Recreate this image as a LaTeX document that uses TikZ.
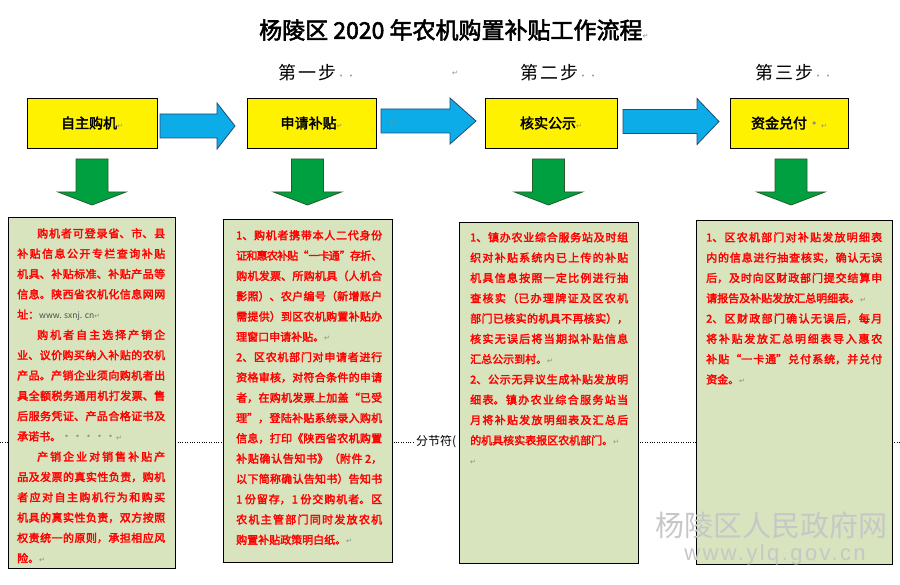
\documentclass[tikz,border=0pt]{standalone}
\usepackage{fontspec}
\newfontfamily\cjk{Noto Sans CJK SC}[AutoFakeBold=2.5]
\newfontfamily\symf{DejaVu Sans}
\newfontfamily\wmfont{Liberation Sans}[LetterSpace=11]
\XeTeXlinebreaklocale "zh"
\XeTeXlinebreakskip=0pt plus 10pt minus 0.8pt
\setlength\parindent{0pt}
\definecolor{arrowblue}{RGB}{12,172,232}
\definecolor{blueedge}{RGB}{35,75,115}
\definecolor{arrowgreen}{RGB}{0,160,64}
\definecolor{greenedge}{RGB}{40,90,40}
\definecolor{notegreen}{RGB}{215,228,189}
\newcommand\retmark{{\symf\mdseries\color{black!45}\fontsize{7}{7}\selectfont ↵}}
\tikzset{
  stepbox/.style={draw, fill=yellow, line width=0.8pt, minimum height=50pt, inner sep=0pt,
    font=\cjk\bfseries\fontsize{14}{14}\selectfont},
  notebox/.style={draw, fill=notegreen, line width=0.8pt, inner sep=0pt},
  notetext/.style={anchor=north west, inner sep=0pt, align=justify, text=red,
    font=\cjk\bfseries\fontsize{11}{20.3}\selectfont},
  steplabel/.style={anchor=west, inner sep=0pt, font=\cjk\fontsize{18}{18}\selectfont\addfontfeature{LetterSpace=12}},
  bluearrow/.style={fill=arrowblue, draw=blueedge, line width=0.8pt},
  greenarrow/.style={fill=arrowgreen, draw=greenedge, line width=0.8pt}
}
\begin{document}
\begin{tikzpicture}[x=1pt, y=-1pt]
    \useasboundingbox (0,0) rectangle (900,585);
    % section break line
    \draw[dotted] (0,442) -- (415,442);
    \draw[dotted] (460,442) -- (900,442);
    \node[anchor=west, inner sep=0pt, font=\cjk\fontsize{12}{12}\selectfont] (brk) at (416,442) {分节符(};
    % title and steps
    \node[anchor=west, inner sep=0pt, font=\cjk\bfseries\fontsize{23}{23}\selectfont] (title) at (259,30) {杨陵区 2020 年农机购置补贴工作流程\retmark};
    \node[steplabel] (step1) at (278,73) {第一步{\color{black!45}\fontsize{9}{9}\selectfont ··}};
    \node[steplabel] (step2) at (520,73) {第二步{\color{black!45}\fontsize{9}{9}\selectfont ··}};
    \node[steplabel] (step3) at (755,73) {第三步{\color{black!45}\fontsize{9}{9}\selectfont ··}};
    \node (mark1) at (455,73) {\retmark};
    % yellow boxes
    \node[stepbox, minimum width=130pt] (buy) at (92,123) {自主购机\retmark};
    \node[stepbox, minimum width=129pt] (apply) at (311.5,123) {申请补贴\retmark};
    \node[stepbox, minimum width=132pt] (check) at (551,123) {核实公示\retmark};
    \node[stepbox, minimum width=118pt] (pay) at (789,123) {资金兑付{\color{black!45}·}\retmark};
    % blue arrows
    \foreach \a/\b/\c/\m in {160/217/235/126, 381/450/476/121, 623/697/719/121.5}
        \draw[bluearrow] (\a,\m-12) -- (\b,\m-12) -- (\b,\m-23) -- (\c,\m) -- (\b,\m+23) -- (\b,\m+12) -- (\a,\m+12) -- cycle;
    \node (mark2) at (393,123) {\retmark};
    % green arrows
    \foreach \c in {92,307.5,548.5,791}
        \draw[greenarrow] (\c-16,159) -- (\c+16,159) -- (\c+16,192) -- (\c+34,192) -- (\c,205) -- (\c-34,192) -- (\c-16,192) -- cycle;
    % text boxes
    \node[notebox, minimum width=167pt, minimum height=351pt] (buybox) at (91.5,392.5) {};
    \node[notebox, minimum width=169pt, minimum height=343pt] (applybox) at (307.5,390.5) {};
    \node[notebox, minimum width=179pt, minimum height=341pt] (checkbox) at (548.5,392.5) {};
    \node[notebox, minimum width=196pt, minimum height=344pt] (paybox) at (794,392) {};
    \node[notetext, text width=148pt] (buytext) at (17,228) {%
\hspace*{20pt}购机者可登录省、市、县\linebreak
补贴信息公开专栏查询补贴\linebreak
机具、补贴标准、补贴产品等\linebreak
信息。陕西省农机化信息网网\linebreak
址：{\mdseries\color{black!70}\fontsize{8.5}{8.5}\selectfont www. sxnj. cn}\retmark\par
\hspace*{20pt}购机者自主选择产销企\linebreak
业、议价购买纳入补贴的农机\linebreak
产品。产销企业须向购机者出\linebreak
具全额税务通用机打发票、售\linebreak
后服务凭证、产品合格证书及\linebreak
承诺书。{\mdseries\color{black!45}·····}\retmark\par
\hspace*{20pt}产销企业对销售补贴产\linebreak
品及发票的真实性负责，购机\linebreak
者应对自主购机行为和购买\linebreak
机具的真实性负责，双方按照\linebreak
权责统一的原则，承担相应风\linebreak
险。\retmark};
    \node[notetext, text width=146pt] (applytext) at (236,230) {%
1、购机者携带本人二代身份\linebreak
证和惠农补贴“一卡通”存折、\linebreak
购机发票、所购机具（人机合\linebreak
影照）、农户编号（新增账户\linebreak
需提供）到区农机购置补贴办\linebreak
理窗口申请补贴。\retmark\par
2、区农机部门对申请者进行\linebreak
资格审核，对符合条件的申请\linebreak
者，在购机发票上加盖“已受\linebreak
理”，登陆补贴系统录入购机\linebreak
信息，打印《陕西省农机购置\linebreak
补贴确认告知书》（附件 2，\linebreak
以下简称确认告知书）告知书\linebreak
1 份留存，1 份交购机者。区\linebreak
农机主管部门同时发放农机\linebreak
购置补贴政策明白纸。\retmark};
    \node[notetext, text width=158pt] (checktext) at (470,232) {%
1、镇办农业综合服务站及时组\linebreak
织对补贴系统内已上传的补贴\linebreak
机具信息按照一定比例进行抽\linebreak
查核实（已办理牌证及区农机\linebreak
部门已核实的机具不再核实），\linebreak
核实无误后将当期拟补贴信息\linebreak
汇总公示到村。\retmark\par
2、公示无异议生成补贴发放明\linebreak
细表。镇办农业综合服务站当\linebreak
月将补贴发放明细表及汇总后\linebreak
的机具核实表报区农机部门。\retmark\par
\retmark};
    \node[notetext, text width=176pt] (paytext) at (706,232) {%
1、区农机部门对补贴发放明细表\linebreak
内的信息进行抽查核实，确认无误\linebreak
后，及时向区财政部门提交结算申\linebreak
请报告及补贴发放汇总明细表。\retmark\par
2、区财政部门确认无误后，每月\linebreak
将补贴发放汇总明细表导入惠农\linebreak
补贴“一卡通”兑付系统，并兑付\linebreak
资金。\retmark};
    % watermark
    \node[anchor=west, inner sep=0pt, text=black!22, font=\cjk\fontsize{29}{29}\selectfont] (wmname) at (655,525) {杨陵区人民政府网};
    \node[inner sep=0pt, text=black!22, font=\wmfont\fontsize{22}{22}\selectfont] (wmurl) at (775,555) {www.ylq.gov.cn};
\end{tikzpicture}
\end{document}
